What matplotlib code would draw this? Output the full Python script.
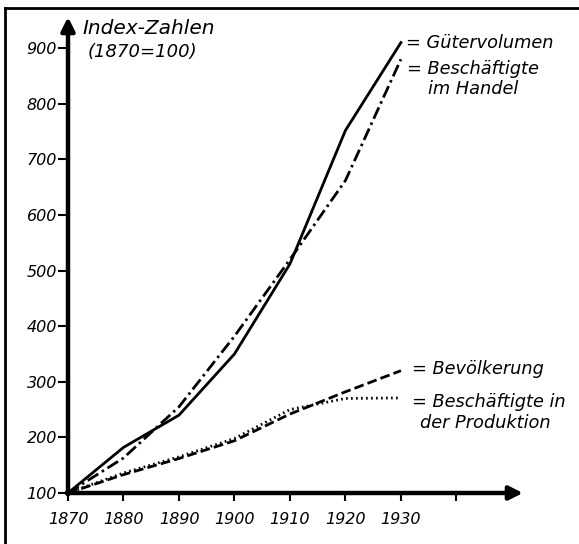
import matplotlib
matplotlib.use('Agg')
from matplotlib import pyplot as plt

# index numbers, 1870 = 100
years = [1870, 1880, 1890, 1900, 1910, 1920, 1930]
guetervolumen = [100, 182, 240, 350, 512, 752, 910]
handel = [100, 163, 255, 382, 520, 662, 880]
bevoelkerung = [100, 133, 162, 194, 242, 282, 320]
produktion = [100, 136, 165, 198, 250, 270, 271]

xTicks = [1870, 1880, 1890, 1900, 1910, 1920, 1930, 1940]
xTickLabels = ['1870', '1880', '1890', '1900', '1910', '1920', '1930', '']
yTicks = [100, 200, 300, 400, 500, 600, 700, 800, 900]

plt.rcParams['font.family'] = 'DejaVu Sans'
plt.rcParams['font.style'] = 'italic'
plt.rcParams['lines.scale_dashes'] = False

fig = plt.figure(figsize=(5.79, 5.44), dpi=100)
# axes placed so that 1870/100 sits where the origin is in the scan
ax = fig.add_axes([68 / 579, 51 / 544, (523 - 68) / 579, (493 - 17) / 544])
ax.set_xlim(1870, 1952)
ax.set_ylim(100, 956)

lw = 2.0
ax.plot(years, guetervolumen, color='black', lw=lw, solid_joinstyle='round')
ax.plot(years, handel, color='black', lw=lw, dashes=(9, 3, 1.8, 3))
ax.plot(years, bevoelkerung, color='black', lw=lw, dashes=(7, 3))
ax.plot(years, produktion, color='black', lw=lw, dashes=(1.2, 2.4))

# arrows instead of spines
for side in ('left', 'bottom', 'right', 'top'):
  ax.spines[side].set_visible(False)
arrow = dict(arrowstyle='-|>', lw=3.2, color='black', mutation_scale=20, shrinkA=0, shrinkB=0)
ax.annotate('', xy=(0, 1), xycoords='axes fraction', xytext=(0, -0.003), arrowprops=arrow)
ax.annotate('', xy=(1, 0), xycoords='axes fraction', xytext=(-0.003, 0), arrowprops=arrow)

ax.set_xticks(xTicks)
ax.set_xticklabels(xTickLabels)
ax.set_yticks(yTicks)
ax.set_yticklabels([str(v) for v in yTicks])
ax.tick_params(axis='x', direction='out', length=6, width=1.5, pad=8, labelsize=11.5)
ax.tick_params(axis='y', direction='out', length=7, width=1.5, pad=1, labelsize=11.5)

textStyle = dict(fontsize=12.8, style='italic', va='center', ha='left', textcoords='offset pixels')
ax.annotate('= Gütervolumen', xy=(years[-1], guetervolumen[-1]), xytext=(5, 0), **textStyle)
ax.annotate('= Beschäftigte', xy=(years[-1], handel[-1]), xytext=(6, -10), **textStyle)
ax.annotate('im Handel', xy=(years[-1], handel[-1]), xytext=(27, -30), **textStyle)
ax.annotate('= Bevölkerung', xy=(years[-1], bevoelkerung[-1]), xytext=(11, 2), **textStyle)
ax.annotate('= Beschäftigte in', xy=(years[-1], produktion[-1]), xytext=(11, -4), **textStyle)
ax.annotate('der Produktion', xy=(years[-1], produktion[-1]), xytext=(19, -25), **textStyle)

fig.text(82 / 579, 1 - 28 / 544, 'Index-Zahlen', fontsize=14.5, style='italic', va='center')
fig.text(88 / 579, 1 - 52 / 544, '(1870=100)', fontsize=13, style='italic', va='center')

# frame of the scanned page: left and top edge
fig.add_artist(plt.Line2D([5 / 579, 5 / 579], [0, 1 - 8 / 544], color='black', lw=2))
fig.add_artist(plt.Line2D([5 / 579, 1], [1 - 8 / 544, 1 - 8 / 544], color='black', lw=2))

fig.savefig('out.png', dpi=100)
